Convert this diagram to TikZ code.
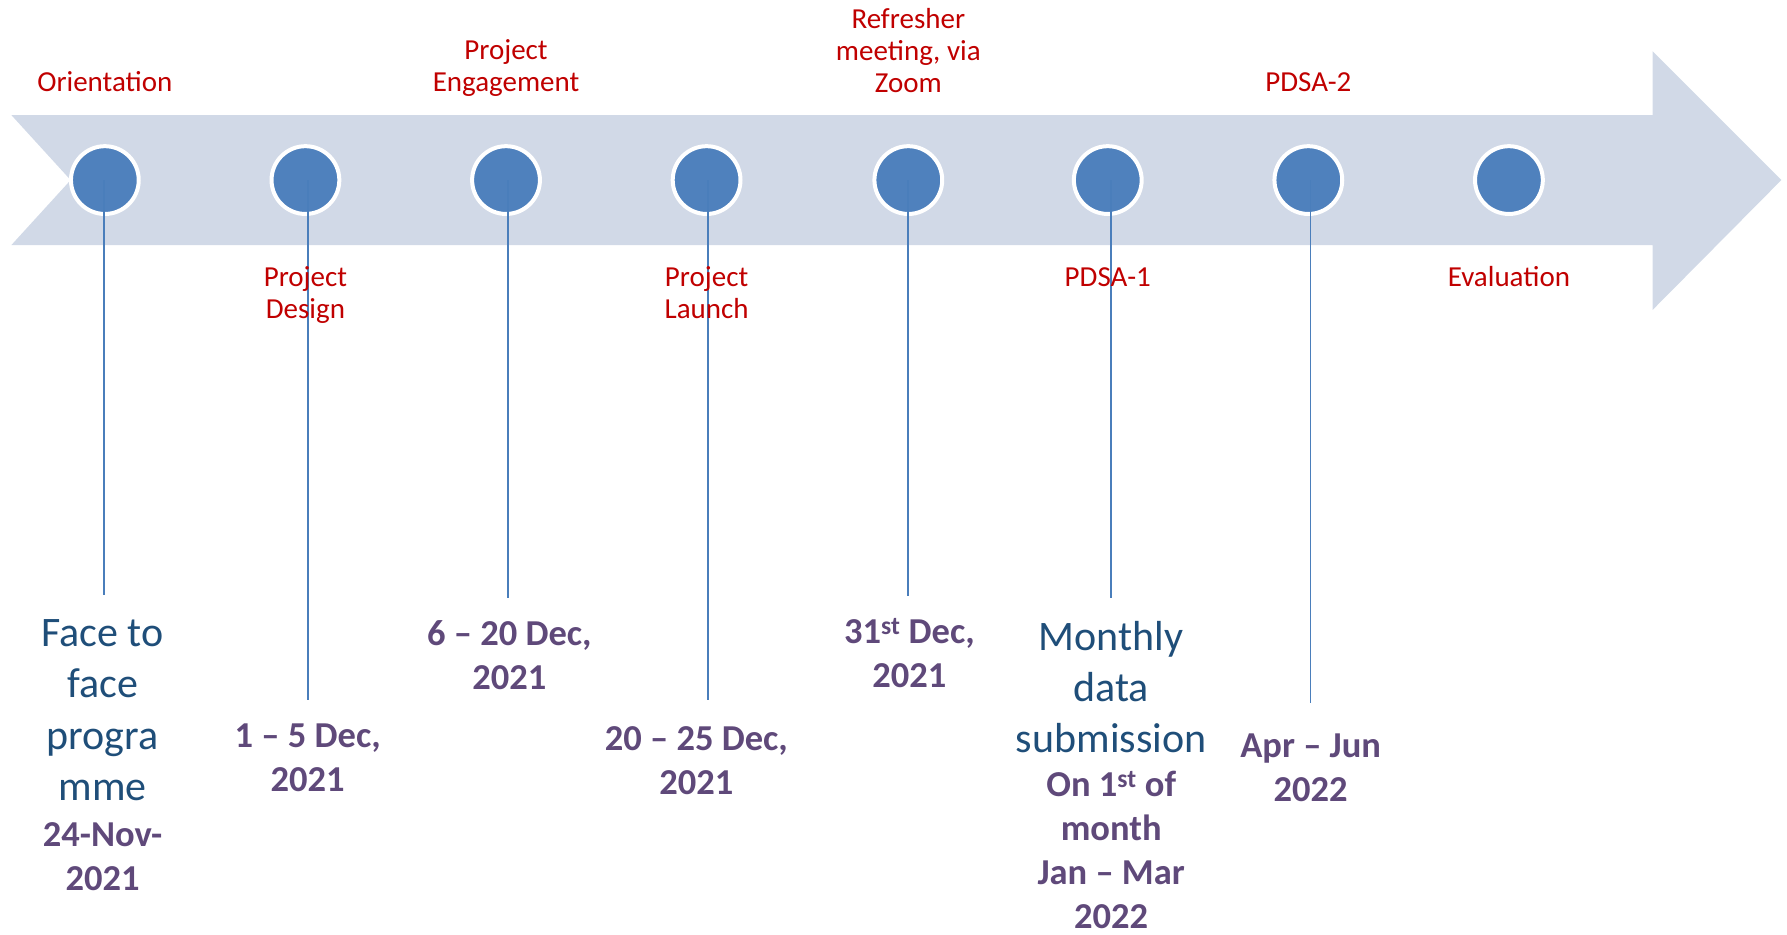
\documentclass[tikz,border=0pt]{standalone}
\usepackage{fontspec}
\setmainfont{Carlito}
\definecolor{bandfill}{HTML}{D1D9E7}
\definecolor{dotblue}{HTML}{4F81BD}
\definecolor{stemblue}{HTML}{4A7EBB}
\definecolor{phasered}{HTML}{C00000}
\definecolor{notenavy}{HTML}{1F4E79}
\definecolor{datepurple}{HTML}{5F497A}
\tikzset{
  dot/.style={circle, minimum size=67.8pt, inner sep=0pt, fill=dotblue, draw=white, line width=4pt},
  stem/.style={draw=stemblue, line width=1.7pt},
  phase/.style={text=phasered, align=center, inner sep=0pt, font=\fontsize{29}{32}\selectfont},
  note/.style={text=notenavy, align=center, inner sep=0pt, font=\fontsize{42}{51.3}\selectfont},
  datelbl/.style={text=datepurple, align=center, inner sep=0pt, font=\fontsize{36.5}{44}\selectfont\bfseries},
}
\begin{document}
\begin{tikzpicture}[x=1.1397pt, y=-1.1397pt]
\useasboundingbox (0,0) rectangle (1568,820);
% timeline band with arrow head
\fill[bandfill] (10,101) -- (1450,101) -- (1450,45) -- (1563,158) -- (1450,272)
  -- (1450,215) -- (10,215) -- (62,158) -- cycle;
% milestone dots
\foreach \i/\x in {1/92,2/268,3/444,4/620,5/797,6/972,7/1148,8/1324}
  \node[dot] (c\i) at (\x,158) {};
% stem ends
\coordinate (e1) at (91,522);
\coordinate (e2) at (270,614);
\coordinate (e3) at (446,525);
\coordinate (e4) at (621,614);
\coordinate (e5) at (797,523);
\coordinate (e6) at (975,525);
\coordinate (e7) at (1150,617);
\draw[stem] (c1.center) ++(-1,0) -- (e1);
\draw[stem] (c2.center) ++(2,0) -- (e2);
\draw[stem] (c3.center) ++(2,0) -- (e3);
\draw[stem] (c4.center) ++(1,0) -- (e4);
\draw[stem] (c5.center) -- (e5);
\draw[stem] (c6.center) ++(3,0) -- (e6);
\draw[stem] (c7.center) ++(2,0) -- (e7);
% phase names
\node[phase] (p1) at (92,72) {Orientation};
\node[phase] (p2) at (268,259) {Project\\Design};
\node[phase] (p3) at (444,60) {Project\\Engagement};
\node[phase] (p4) at (620,257) {Project\\Launch};
\node[phase] (p5) at (797,44) {Refresher\\meeting, via\\Zoom};
\node[phase] (p6) at (972,243) {PDSA-1};
\node[phase] (p7) at (1148,72) {PDSA-2};
\node[phase] (p8) at (1324,243) {Evaluation};
% notes and dates
\node[note] (n1) at (90,623) {Face to\\face\\progra\\mme};
\node[datelbl] (d1) at (90,752) {24-Nov-\\2021};
\node[datelbl] (d2) at (270,665) {1 – 5 Dec,\\2021};
\node[datelbl] (d3) at (447,575) {6 – 20 Dec,\\2021};
\node[datelbl] (d4) at (611,667) {20 – 25 Dec,\\2021};
\node[datelbl] (d5) at (798,573) {31\textsuperscript{st} Dec,\\2021};
\node[note] (n6) at (975,603) {Monthly\\data\\submission};
\node[datelbl] (d6) at (975,746) {On 1\textsuperscript{st} of\\month\\Jan – Mar\\2022};
\node[datelbl] (d7) at (1150,674) {Apr – Jun\\2022};
\end{tikzpicture}
\end{document}
